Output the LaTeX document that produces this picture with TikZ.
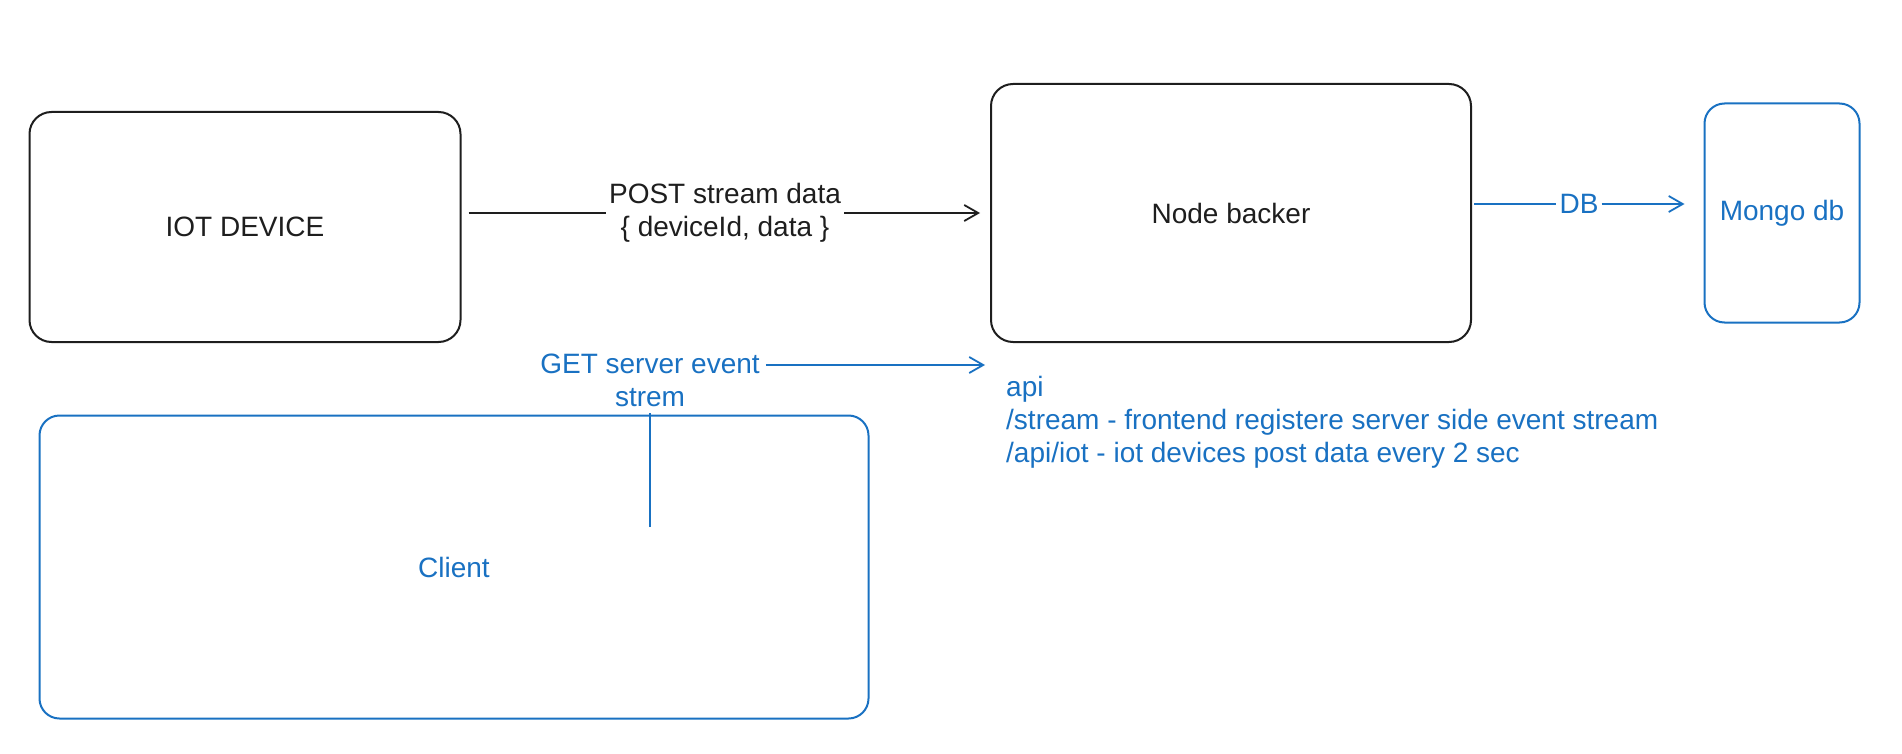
\documentclass[tikz,border=0pt]{standalone}
\usepackage{fontspec}
\setmainfont{Liberation Sans}
\usetikzlibrary{arrows.meta}
\definecolor{inkblack}{HTML}{1E1E1E}
\definecolor{inkblue}{HTML}{1971C2}

\begin{document}
\begin{tikzpicture}[
    x=1pt, y=-1pt,
    every node/.style={align=center, font=\fontsize{28}{33}\selectfont},
    box/.style={rectangle, draw=inkblack, line width=2pt, rounded corners=22pt, text=inkblack},
    bluebox/.style={box, draw=inkblue, text=inkblue, rounded corners=20pt},
    lbl/.style={fill=white, inner sep=3pt},
    line/.style={draw=inkblack, line width=1.8pt},
    bline/.style={line, draw=inkblue},
    arr/.style={line, -{Straight Barb[length=14pt,width=16pt]}},
    barr/.style={arr, draw=inkblue}
]
\useasboundingbox (0,0) rectangle (1902,754);

% boxes
\node[box, minimum width=431pt, minimum height=230pt] (iot) at (245,227) {IOT DEVICE};
\node[box, minimum width=480pt, minimum height=258pt] (backer) at (1231,213) {Node backer};
\node[bluebox, minimum width=155pt, minimum height=219pt] (mongo) at (1782,213) {Mongo db};
\node[bluebox, minimum width=829pt, minimum height=303pt] (client) at (454,567) {Client};

% labels
\node[lbl, text=inkblack] (post) at (725,213) {POST stream data\\\{ deviceId, data \}};
\node[lbl, text=inkblue] (db) at (1579,204) {DB};
\node[lbl, inner sep=6pt, text=inkblue] (get) at (650,380) {GET server event\\strem};
\node[text=inkblue, align=left, anchor=north west, inner sep=0pt] (api) at (1006,376)
    {api\\/stream - frontend registere server side event stream\\/api/iot - iot devices post data every 2 sec};

\coordinate (getsrc) at (650,527);
\coordinate (getdst) at (985,365);

% connectors
\draw[line, shorten <=7pt] (iot.east |- post) -- (post);
\draw[arr, shorten >=10pt] (post) -- (post -| backer.west);
\draw[bline, shorten <=2pt] (backer.east |- db) -- (db);
\draw[barr, shorten >=19pt] (db) -- (db -| mongo.west);
\draw[bline] (getsrc) -- (get);
\draw[barr] (get.east |- getdst) -- (getdst);
\end{tikzpicture}
\end{document}
